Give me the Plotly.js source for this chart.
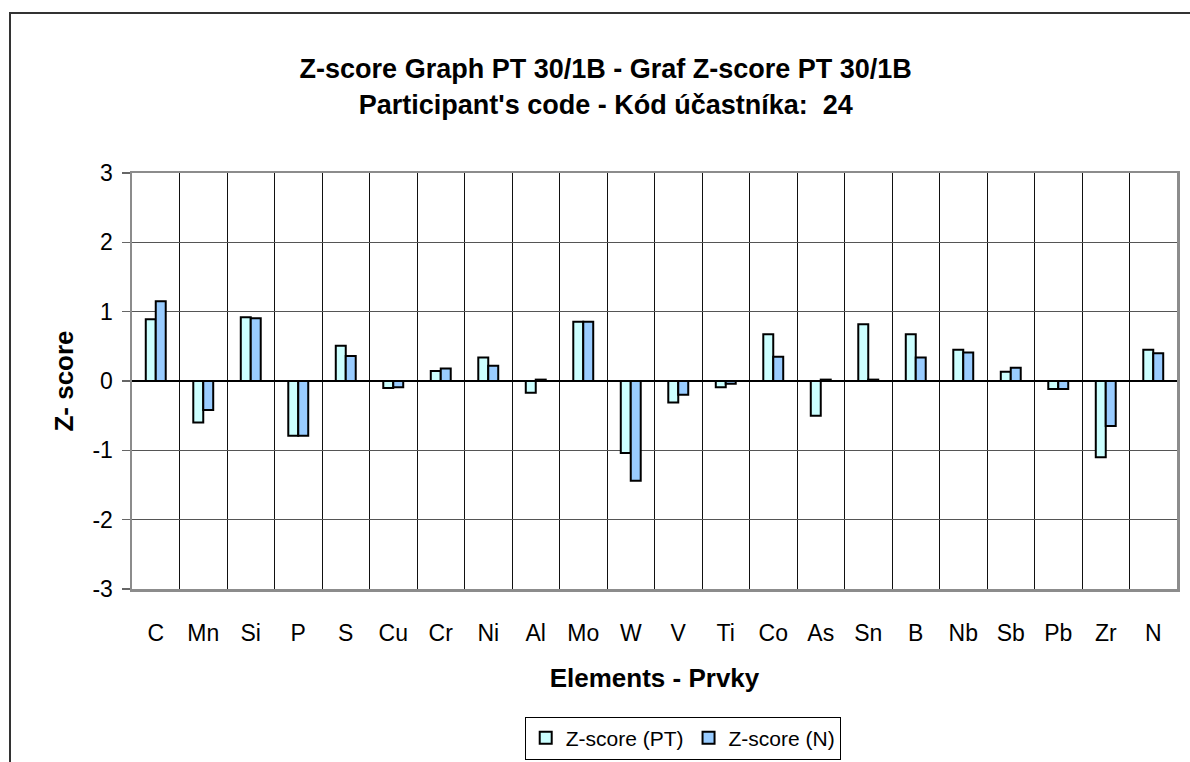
<!DOCTYPE html>
<html>
<head>
<meta charset="utf-8">
<script src="https://cdn.plot.ly/plotly-3.0.1.min.js"></script>
<style>
html,body{margin:0;padding:0;background:#fff;overflow:hidden;}
#chart{width:1190px;height:762px;}
#frame{position:absolute;left:9px;top:12px;width:1300px;height:900px;border-left:2px solid #333;border-top:2px solid #333;pointer-events:none;}
</style>
</head>
<body>
<div id="chart"></div>
<div id="frame"></div>
<script>
const elements = ["C","Mn","Si","P","S","Cu","Cr","Ni","Al","Mo","W","V","Ti","Co","As","Sn","B","Nb","Sb","Pb","Zr","N"];
const zPT = [0.89,-0.60,0.92,-0.79,0.51,-0.10,0.145,0.34,-0.17,0.855,-1.04,-0.31,-0.09,0.675,-0.50,0.82,0.675,0.45,0.135,-0.115,-1.10,0.45];
const zN  = [1.15,-0.42,0.905,-0.79,0.36,-0.09,0.18,0.22,0.02,0.855,-1.44,-0.20,-0.04,0.35,0.02,0.02,0.34,0.41,0.19,-0.115,-0.65,0.40];
const yTicks = [-3,-2,-1,0,1,2,3];

const font = "Liberation Sans, Arial, sans-serif";

const traces = [
  {type:"bar", name:"Z-score (PT)", x:elements, y:zPT,
   marker:{color:"#CCFFFF", line:{color:"#000", width:2}}},
  {type:"bar", name:"Z-score (N)", x:elements, y:zN,
   marker:{color:"#99CCFF", line:{color:"#000", width:2}}}
];

const layout = {
  width:1190, height:762,
  margin:{l:132, r:13, t:173, b:173, autoexpand:false},
  paper_bgcolor:"#fff", plot_bgcolor:"#fff",
  font:{family:font, color:"#000", size:23},
  barmode:"group", bargap:0.58, bargroupgap:0,
  title:{text:"<b>Z-score Graph PT 30/1B - Graf Z-score PT 30/1B<br>Participant's code - Kód účastníka:  24</b>",
         font:{family:font, size:27, color:"#000"},
         x:0.509, xanchor:"center", y:0.897, yanchor:"middle"},
  xaxis:{type:"category", tickson:"boundaries", showgrid:true, gridcolor:"#111", gridwidth:1,
         ticks:"", showline:true, mirror:true, linecolor:"#8c8c8c", linewidth:2.5,
         tickfont:{size:23}, ticklabelstandoff:22, automargin:false,
         title:{text:"<b>Elements - Prvky</b>", font:{size:26}, standoff:24}},
  yaxis:{range:[-3,3], tickvals:yTicks, ticktext:yTicks.map(String),
         showgrid:true, gridcolor:"#555", gridwidth:1,
         zeroline:true, zerolinecolor:"#000", zerolinewidth:1.5,
         ticks:"outside", ticklen:8, tickcolor:"#666", tickwidth:1.5,
         showline:true, mirror:true, linecolor:"#8c8c8c", linewidth:2.5,
         tickfont:{size:23}, ticklabelstandoff:4, automargin:false,
         title:{text:"<b>Z- score</b>", font:{size:26}, standoff:12}},
  legend:{orientation:"h", x:0.527, xanchor:"center", y:-0.307, yanchor:"top",
          bordercolor:"#000", borderwidth:1, bgcolor:"#fff",
          font:{size:21}, itemwidth:30, tracegroupgap:0},
  showlegend:true
};

Plotly.newPlot("chart", traces, layout, {displayModeBar:false, staticPlot:true});
</script>
</body>
</html>
